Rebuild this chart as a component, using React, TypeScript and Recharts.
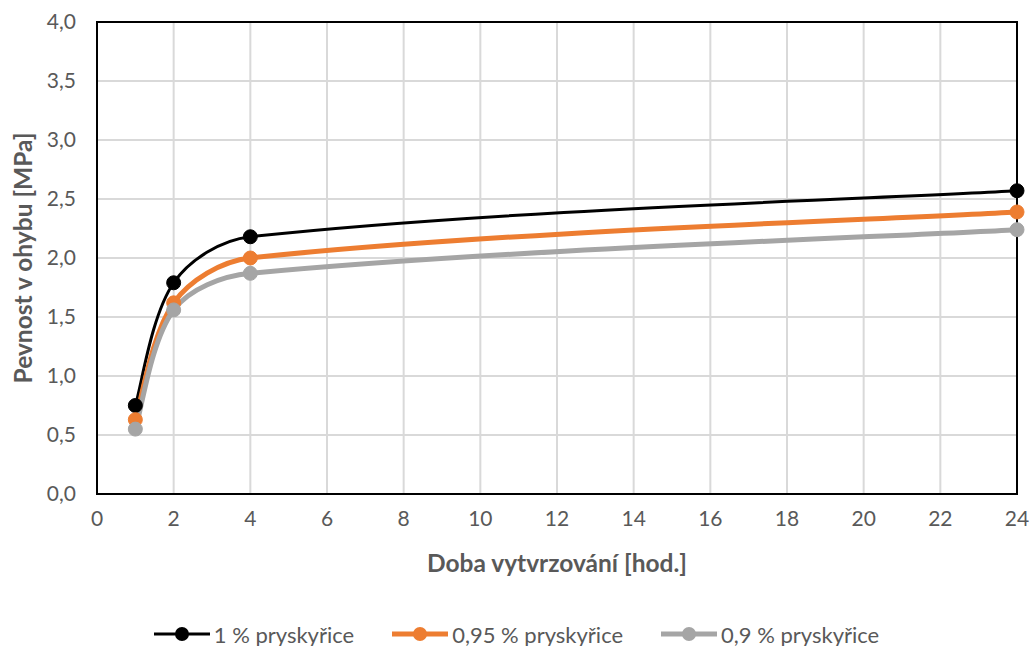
import React from "react";
import {
  LineChart,
  Line,
  XAxis,
  YAxis,
  CartesianGrid,
  ReferenceArea,
  Legend,
} from "recharts";

// curing time [h]
const hours = [1, 2, 4, 24];
// flexural strength [MPa] per resin content
const resin100 = [0.75, 1.79, 2.18, 2.57];
const resin095 = [0.63, 1.62, 2.0, 2.39];
const resin090 = [0.55, 1.56, 1.87, 2.24];

const xTicks = [0, 2, 4, 6, 8, 10, 12, 14, 16, 18, 20, 22, 24];
const yTicks = [0, 0.5, 1, 1.5, 2, 2.5, 3, 3.5, 4];

const FONT = "Lato, 'Open Sans', sans-serif";
const TEXT = "#595959";

const SERIES = [
  { key: "r100", name: "1 % pryskyřice", color: "#000000", width: 3 },
  { key: "r095", name: "0,95 % pryskyřice", color: "#ED7D31", width: 5 },
  { key: "r090", name: "0,9 % pryskyřice", color: "#A5A5A5", width: 5 },
];

const data = hours.map((h, i) => ({
  h,
  r100: resin100[i],
  r095: resin095[i],
  r090: resin090[i],
}));

type Pt = [number, number];

// Smoothed line similar to office charts: bezier segments with tangents
// from neighbouring points, scaled by chord length so uneven spacing doesn't loop.
const smoothCurve = (context: any) => {
  let pts: Pt[] = [];
  return {
    areaStart() {},
    areaEnd() {},
    lineStart() {
      pts = [];
    },
    point(x: number, y: number) {
      pts.push([+x, +y]);
    },
    lineEnd() {
      const n = pts.length;
      if (!n) return;
      context.moveTo(pts[0][0], pts[0][1]);
      if (n === 1) return;
      const dist = (a: Pt, b: Pt) => Math.hypot(b[0] - a[0], b[1] - a[1]);
      const outCp: Pt[] = [];
      const inCp: Pt[] = [];
      for (let i = 0; i < n; i++) {
        const p = pts[i];
        if (i === 0 || i === n - 1) {
          const q = i === 0 ? pts[1] : pts[n - 2];
          const c: Pt = [p[0] + (q[0] - p[0]) / 6, p[1] + (q[1] - p[1]) / 6];
          outCp[i] = c;
          inCp[i] = c;
          continue;
        }
        const prev = pts[i - 1];
        const next = pts[i + 1];
        const d0 = dist(prev, p);
        const d1 = dist(p, next);
        const sum = d0 + d1 || 1;
        const tx = next[0] - prev[0];
        const ty = next[1] - prev[1];
        outCp[i] = [p[0] + (tx * d1) / sum / 3, p[1] + (ty * d1) / sum / 3];
        inCp[i] = [p[0] - (tx * d0) / sum / 3, p[1] - (ty * d0) / sum / 3];
      }
      for (let i = 0; i < n - 1; i++) {
        const a = outCp[i];
        const b = inCp[i + 1];
        const e = pts[i + 1];
        context.bezierCurveTo(a[0], a[1], b[0], b[1], e[0], e[1]);
      }
    },
  };
};

const LegendContent = () => (
  <div
    style={{
      display: "flex",
      justifyContent: "center",
      alignItems: "center",
      height: 24,
      fontFamily: FONT,
      fontSize: 22,
      color: TEXT,
    }}
  >
    {SERIES.map((s, i) => (
      <div
        key={s.key}
        style={{ display: "flex", alignItems: "center", marginLeft: i ? 38 : 0 }}
      >
        <svg width={56} height={18}>
          <line x1={0} x2={56} y1={9} y2={9} stroke={s.color} strokeWidth={s.width} />
          <circle cx={28} cy={9} r={7} fill={s.color} />
        </svg>
        <span style={{ marginLeft: 4 }}>{s.name}</span>
      </div>
    ))}
  </div>
);

const XTitle = (props: any) => {
  const vb = props.viewBox || {};
  return (
    <text
      x={vb.x + vb.width / 2}
      y={vb.y + 68}
      textAnchor="middle"
      dominantBaseline="central"
      fontFamily={FONT}
      fontSize={24.5}
      fontWeight="bold"
      fill={TEXT}
    >
      Doba vytvrzování [hod.]
    </text>
  );
};

const YTitle = (props: any) => {
  const vb = props.viewBox || {};
  const cx = 22;
  const cy = vb.y + vb.height / 2;
  return (
    <text
      x={cx}
      y={cy}
      transform={`rotate(-90 ${cx} ${cy})`}
      textAnchor="middle"
      dominantBaseline="central"
      fontFamily={FONT}
      fontSize={24.5}
      fontWeight="bold"
      fill={TEXT}
    >
      Pevnost v ohybu [MPa]
    </text>
  );
};

const fmt = (v: number) => v.toFixed(1).replace(".", ",");

export default function App() {
  return (
    <div style={{ position: "absolute", left: 0, top: 0, background: "#fff" }}>
      <LineChart
        width={1033}
        height={646}
        data={data}
        margin={{ top: 22, right: 16, left: 0, bottom: 0 }}
      >
        <CartesianGrid stroke="#D9D9D9" strokeWidth={2} />
        <XAxis
          dataKey="h"
          type="number"
          domain={[0, 24]}
          ticks={xTicks}
          interval={0}
          axisLine={false}
          tickLine={false}
          tickSize={0}
          tickMargin={17}
          height={128}
          tick={{ fill: TEXT, fontSize: 21, fontFamily: FONT }}
          label={<XTitle />}
        />
        <YAxis
          type="number"
          domain={[0, 4]}
          ticks={yTicks}
          interval={0}
          axisLine={false}
          tickLine={false}
          tickSize={0}
          tickMargin={21}
          width={97}
          tickFormatter={fmt}
          tick={{ fill: TEXT, fontSize: 21, fontFamily: FONT }}
          label={<YTitle />}
        />
        <ReferenceArea
          x1={0}
          x2={24}
          y1={0}
          y2={4}
          fill="none"
          fillOpacity={0}
          stroke="#000"
          strokeWidth={2}
          strokeOpacity={1}
        />
        <Legend
          verticalAlign="bottom"
          content={<LegendContent />}
          wrapperStyle={{ left: 0, width: 1033, bottom: 0 }}
        />
        {SERIES.map((s) => (
          <Line
            key={s.key}
            dataKey={s.key}
            name={s.name}
            type={smoothCurve as any}
            stroke={s.color}
            strokeWidth={s.width}
            dot={{ r: 7, fill: s.color, stroke: s.color, strokeWidth: 1 }}
            activeDot={false}
            isAnimationActive={false}
          />
        ))}
      </LineChart>
    </div>
  );
}
